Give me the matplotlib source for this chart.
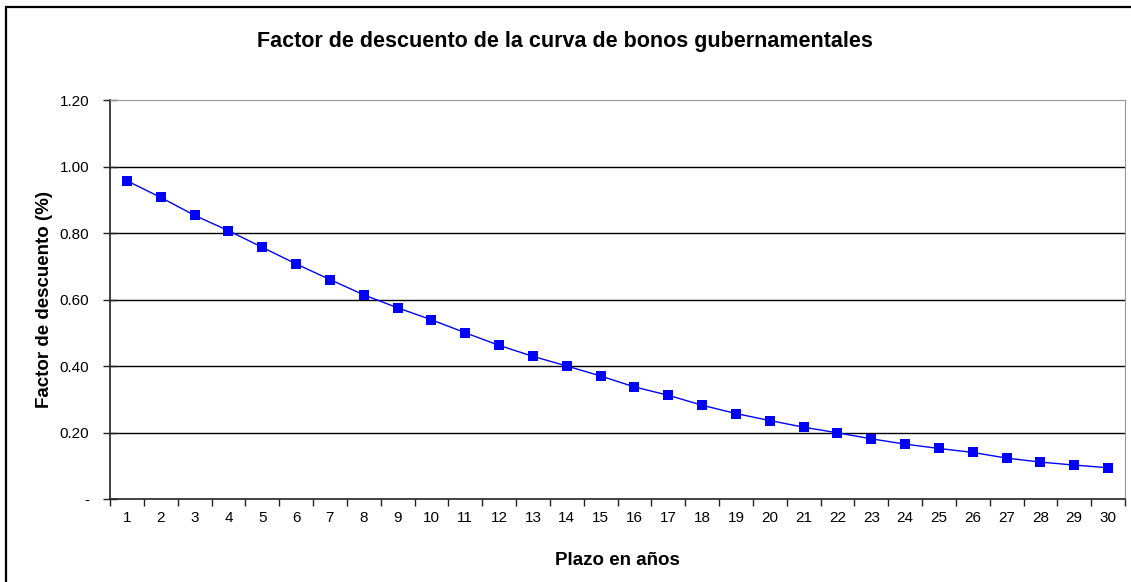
import matplotlib
matplotlib.use("Agg")
import matplotlib.pyplot as plt
import numpy as np
from matplotlib.patches import Rectangle

# plazo en años y factor de descuento
plazos = list(range(1, 31))
factor = [0.957, 0.907, 0.853, 0.807, 0.757, 0.707, 0.660, 0.614, 0.575, 0.539,
          0.500, 0.462, 0.429, 0.400, 0.370, 0.337, 0.312, 0.282, 0.257, 0.236,
          0.216, 0.199, 0.181, 0.165, 0.152, 0.140, 0.123, 0.111, 0.102, 0.094]
y_ticks = [0, 0.2, 0.4, 0.6, 0.8, 1.0, 1.2]
y_labels = ["-", "0.20", "0.40", "0.60", "0.80", "1.00", "1.20"]

plt.rcParams['font.family'] = ['Liberation Sans', 'DejaVu Sans']

fig = plt.figure(figsize=(11.31, 5.82), dpi=100)
ax = fig.add_axes([110 / 1131, 83 / 582, 1015 / 1131, 399 / 582])

# borde exterior del grafico (sin borde inferior ni derecho visibles)
fig.patches.append(Rectangle((6 / 1131, -0.1), 1.2, 1.1 - 7 / 582, transform=fig.transFigure,
                             fill=False, edgecolor='black', linewidth=1.6))

ax.plot(plazos, factor, color='#0000ff', linewidth=1.0, marker='s',
        markersize=6.5, markeredgewidth=0, zorder=3)

ax.set_xlim(0.5, 30.5)
ax.set_ylim(0, 1.2)
ax.set_yticks(y_ticks)
ax.set_yticklabels(y_labels, fontsize=11)
ax.set_xticks(plazos)
ax.set_xticklabels([str(p) for p in plazos], fontsize=11)
ax.set_xticks(np.arange(0.5, 31, 1), minor=True)
ax.tick_params(axis='x', which='major', length=0, pad=9)
ax.tick_params(axis='x', which='minor', length=5, width=1, direction='out', color='#222222')
ax.tick_params(axis='y', length=10, width=1, direction='inout', color='#222222', pad=10)

for yv in y_ticks[1:-1]:
    ax.axhline(yv, color='black', linewidth=1.0, zorder=1)

ax.spines['left'].set_color('#222222')
ax.spines['bottom'].set_color('#222222')
ax.spines['left'].set_linewidth(1.2)
ax.spines['bottom'].set_linewidth(1.2)
ax.spines['top'].set_color('#999999')
ax.spines['right'].set_color('#999999')

fig.text(565 / 1131, 1 - 42 / 582, "Factor de descuento de la curva de bonos gubernamentales",
         ha='center', va='center', fontsize=15.5, fontweight='bold')
ax.set_xlabel("Plazo en años", fontsize=13.5, fontweight='bold', labelpad=19)
ax.set_ylabel("Factor de descuento (%)", fontsize=13.5, fontweight='bold', labelpad=5)

fig.savefig("out.png", dpi=100)
